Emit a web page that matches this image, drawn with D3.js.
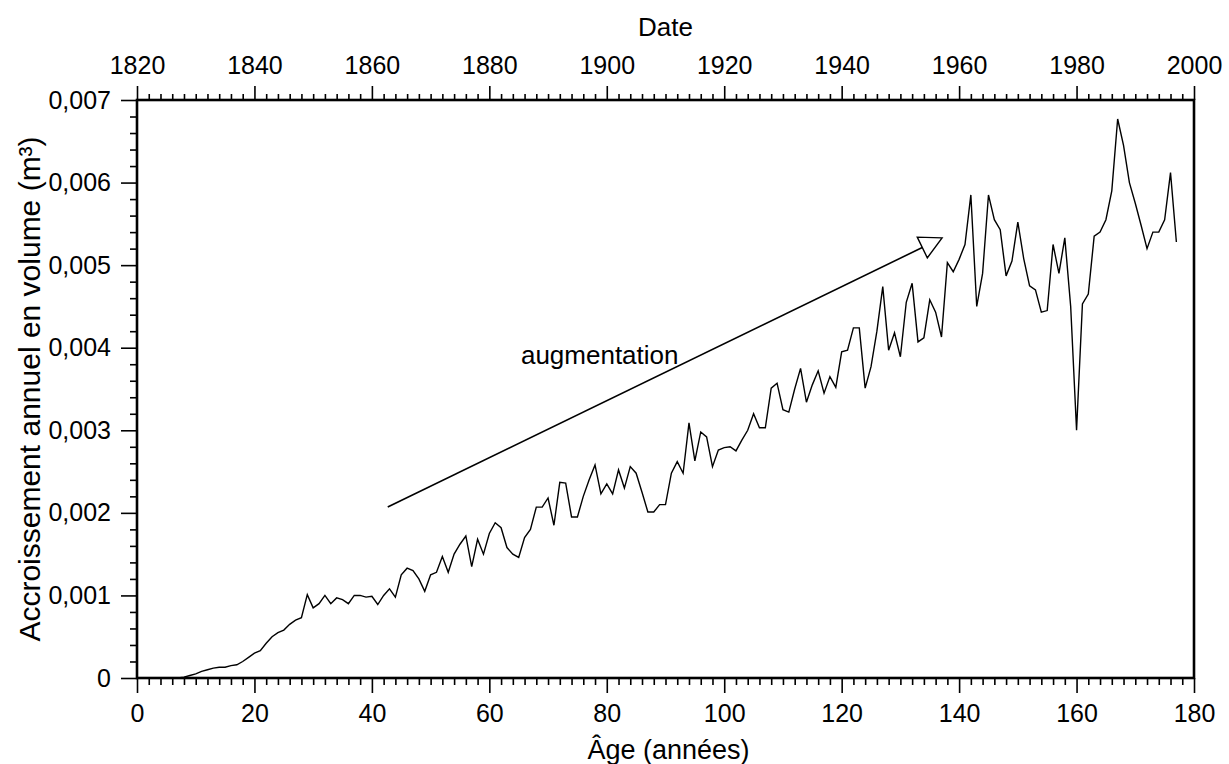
<!DOCTYPE html>
<html><head><meta charset="utf-8">
<script src="https://cdn.jsdelivr.net/npm/d3@7"></script>
<style>body{margin:0;background:#fff} text{font-family:"Liberation Sans",Arial,sans-serif;fill:#000}</style>
</head><body><svg id="c" width="1229" height="764"></svg>
<script>
const volumes = [
0,0,0,0,0,0,0,0,0.00001,0.00003,
0.00005,0.00008,0.0001,0.00012,0.00013,0.00013,0.00015,0.00016,0.0002,0.00025,
0.0003,0.00033,0.00042,0.0005,0.00055,0.00058,0.00065,0.0007,0.00073,0.00101,
0.00085,0.0009,0.001,0.0009,0.00097,0.00095,0.0009,0.001,0.001,0.00098,
0.00099,0.00089,0.001,0.00108,0.00098,0.00125,0.00133,0.0013,0.0012,0.00105,
0.00125,0.00128,0.00147,0.00128,0.0015,0.00162,0.00172,0.00135,0.00168,0.0015,
0.00175,0.00188,0.00182,0.00158,0.0015,0.00146,0.0017,0.0018,0.00207,0.00207,
0.00218,0.00185,0.00237,0.00236,0.00195,0.00195,0.0022,0.0024,0.00258,0.00223,
0.00235,0.00223,0.00252,0.0023,0.00256,0.00248,0.00225,0.00201,0.00201,0.0021,
0.0021,0.00248,0.00262,0.00248,0.00309,0.00263,0.00298,0.00292,0.00256,0.00276,
0.00279,0.0028,0.00275,0.00288,0.003,0.0032,0.00303,0.00303,0.00351,0.00357,
0.00325,0.00322,0.0035,0.00375,0.00334,0.00355,0.00372,0.00345,0.00365,0.00352,
0.00395,0.00397,0.00424,0.00424,0.00351,0.00377,0.0042,0.00474,0.00397,0.00418,
0.00389,0.00455,0.00478,0.00407,0.00412,0.00458,0.00443,0.00413,0.00503,0.00492,
0.00507,0.00525,0.00585,0.0045,0.0049,0.00585,0.00555,0.00543,0.00487,0.00505,
0.00552,0.00508,0.00475,0.0047,0.00443,0.00445,0.00525,0.0049,0.00533,0.0045,
0.003,0.00453,0.00465,0.00535,0.0054,0.00555,0.0059,0.00677,0.00645,0.006,
0.00575,0.00548,0.0052,0.0054,0.0054,0.00555,0.00612,0.00528
];
const ages = volumes.map((v,i)=>i);
const ageTicks = [0,20,40,60,80,100,120,140,160,180];
const dateTicks = [1820,1840,1860,1880,1900,1920,1940,1960,1980,2000];
const yTicks = [0,0.001,0.002,0.003,0.004,0.005,0.006,0.007];
const yTickLabels = ["0","0,001","0,002","0,003","0,004","0,005","0,006","0,007"];
const arrowStart = [42.7, 0.00207];
const arrowEnd = [137.1, 0.00533];
const annotationPos = [78.8, 0.00391];

const svg = d3.select("#c");
const m = {l:137, r:35, t:100, b:86};
const W = 1229, H = 764;
const FONT = '"Liberation Sans",Arial,sans-serif';
const x = d3.scaleLinear().domain([0,180]).range([m.l, W-m.r]);
const xd = d3.scaleLinear().domain([1820,2000]).range([m.l, W-m.r]);
const y = d3.scaleLinear().domain([0,0.007]).range([H-m.b, m.t]);

const minorAge = d3.range(0,181,2).filter(v=>v%20!==0);
const minorDate = d3.range(1820,2001,2).filter(v=>v%20!==0);
const minorY = d3.range(1,35).filter(k=>k%5!==0).map(k=>k*0.0002);

function styleAxis(g){ g.select(".domain").remove(); g.selectAll("line").attr("stroke","#000").attr("stroke-width",1.6); g.selectAll("text").attr("font-size",25).attr("font-family",FONT); }

svg.append("g").attr("transform",`translate(0,${H-m.b})`)
  .call(d3.axisBottom(x).tickValues(minorAge).tickSize(7).tickFormat("")).call(styleAxis);
svg.append("g").attr("transform",`translate(0,${H-m.b})`)
  .call(d3.axisBottom(x).tickValues(ageTicks).tickSize(15).tickPadding(11).tickFormat(d3.format("d"))).call(styleAxis);
svg.append("g").attr("transform",`translate(0,${m.t})`)
  .call(d3.axisTop(xd).tickValues(minorDate).tickSize(6).tickFormat("")).call(styleAxis);
svg.append("g").attr("transform",`translate(0,${m.t})`)
  .call(d3.axisTop(xd).tickValues(dateTicks).tickSize(14).tickPadding(12).tickFormat(d3.format("d"))).call(styleAxis);
svg.append("g").attr("transform",`translate(${m.l},0)`)
  .call(d3.axisLeft(y).tickValues(minorY).tickSize(7).tickFormat("")).call(styleAxis);
svg.append("g").attr("transform",`translate(${m.l},0)`)
  .call(d3.axisLeft(y).tickValues(yTicks).tickSize(16).tickPadding(10).tickFormat((d,i)=>yTickLabels[i])).call(styleAxis);

svg.append("rect").attr("x",m.l).attr("y",m.t).attr("width",W-m.r-m.l).attr("height",H-m.b-m.t)
  .attr("fill","none").attr("stroke","#000").attr("stroke-width",2.6);

svg.append("path").datum(ages)
  .attr("fill","none").attr("stroke","#000").attr("stroke-width",1.4)
  .attr("d", d3.line().x(a=>x(a)).y(a=>y(volumes[a])));

const x0=x(arrowStart[0]), y0=y(arrowStart[1]), x1=x(arrowEnd[0]), y1=y(arrowEnd[1]);
const ang=Math.atan2(y1-y0,x1-x0), L=22, hw=11.5;
const bx=x1-L*Math.cos(ang), by=y1-L*Math.sin(ang);
svg.append("line").attr("x1",x0).attr("y1",y0).attr("x2",bx).attr("y2",by).attr("stroke","#000").attr("stroke-width",1.6);
svg.append("path").attr("d",`M${x1},${y1}L${bx+hw*Math.sin(ang)},${by-hw*Math.cos(ang)}L${bx-hw*Math.sin(ang)},${by+hw*Math.cos(ang)}Z`)
  .attr("fill","#fff").attr("stroke","#000").attr("stroke-width",1.4);
svg.append("text").attr("x",x(annotationPos[0])).attr("y",y(annotationPos[1])).attr("text-anchor","middle")
  .attr("dominant-baseline","central").attr("font-size",26).text("augmentation");

svg.append("text").attr("x",(m.l+W-m.r)/2).attr("y",27).attr("text-anchor","middle").attr("dominant-baseline","central").attr("font-size",26).text("Date");
svg.append("text").attr("x",(m.l+W-m.r)/2+3).attr("y",750).attr("text-anchor","middle").attr("dominant-baseline","central").attr("font-size",27).text("Âge (années)");
svg.append("text").attr("transform",`translate(29,${(m.t+H-m.b)/2}) rotate(-90)`).attr("text-anchor","middle").attr("dominant-baseline","central").attr("font-size",30)
  .text("Accroissement annuel en volume (m³)");
</script></body></html>
